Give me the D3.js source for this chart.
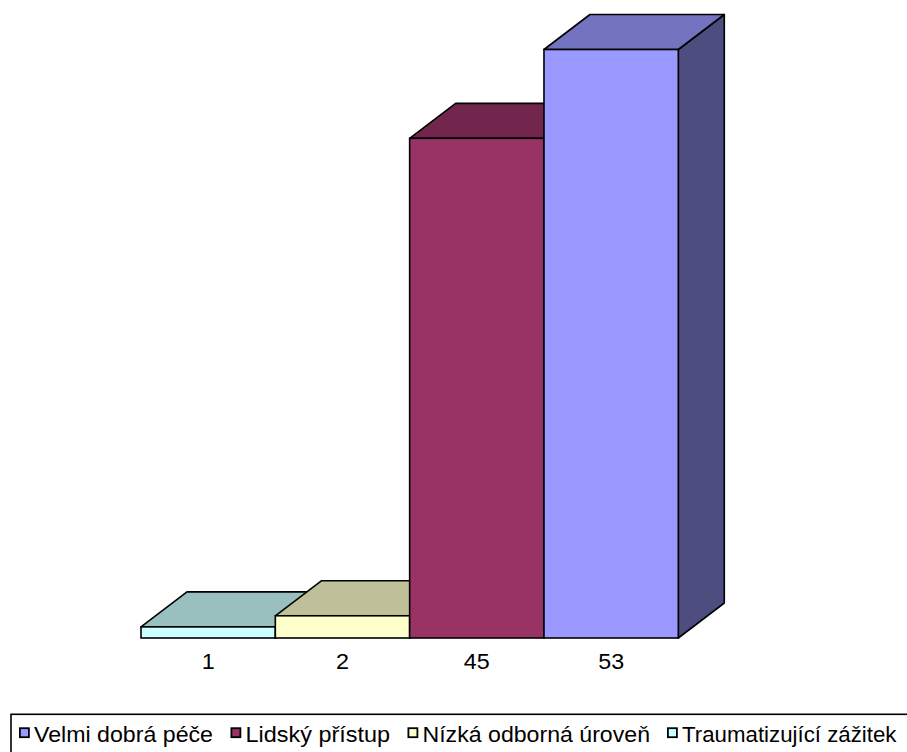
<!DOCTYPE html>
<html>
<head>
<meta charset="utf-8">
<script src="https://cdn.jsdelivr.net/npm/d3@7"></script>
<style>
  html, body { margin: 0; padding: 0; background: #fff; }
  svg { display: block; font-family: "Liberation Sans", Arial, sans-serif; }
</style>
</head>
<body>
<svg id="chart" width="907" height="752"></svg>
<script>
// Series, in drawing order (front row, left to right)
const seriesNames = ["Traumatizující zážitek", "Nízká odborná úroveň", "Lidský přístup", "Velmi dobrá péče"];
const seriesValues = [1, 2, 45, 53];
const seriesColors = ["#CCFFFF", "#FFFFCC", "#993366", "#9999FF"];
// Legend lists the series in reverse order
const legendOrder = ["Velmi dobrá péče", "Lidský přístup", "Nízká odborná úroveň", "Traumatizující zážitek"];
const yMax = 53;

const svg = d3.select("#chart");

const plot = { left: 141, right: 678.3, top: 49.5, bottom: 638 };
const depth = { dx: 46, dy: 35 };

const x = d3.scaleBand()
  .domain(seriesNames)
  .range([plot.left, plot.right])
  .paddingInner(0).paddingOuter(0);

const y = d3.scaleLinear()
  .domain([0, yMax])
  .range([plot.bottom, plot.top]);

const shade = (c, k) => {
  const r = d3.rgb(c);
  return d3.rgb(r.r * k, r.g * k, r.b * k).formatHex();
};

const bars = svg.append("g").attr("class", "bars");
const data = seriesNames.map((name, i) => ({ name, value: seriesValues[i], color: seriesColors[i] }));

data.forEach(d => {
  const x0 = x(d.name), x1 = x0 + x.bandwidth();
  const yt = y(d.value), yb = y(0);
  const g = bars.append("g");
  // right side face
  g.append("path")
    .attr("d", d3.line()([[x1, yt], [x1 + depth.dx, yt - depth.dy], [x1 + depth.dx, yb - depth.dy], [x1, yb]]) + "Z")
    .attr("fill", shade(d.color, 0.5))
    .attr("stroke", "#000").attr("stroke-width", 1.6).attr("stroke-linejoin", "round");
  // top face
  g.append("path")
    .attr("d", d3.line()([[x0, yt], [x0 + depth.dx, yt - depth.dy], [x1 + depth.dx, yt - depth.dy], [x1, yt]]) + "Z")
    .attr("fill", shade(d.color, 0.75))
    .attr("stroke", "#000").attr("stroke-width", 1.6).attr("stroke-linejoin", "round");
  // front face
  g.append("rect")
    .attr("x", x0).attr("y", yt)
    .attr("width", x1 - x0).attr("height", yb - yt)
    .attr("fill", d.color)
    .attr("stroke", "#000").attr("stroke-width", 1.6);
});

// Category labels under the bars show each bar's value
const valueByName = new Map(data.map(d => [d.name, d.value]));
const axis = d3.axisBottom(x)
  .tickSize(0)
  .tickPadding(15)
  .tickFormat(n => String(valueByName.get(n)));
const axisG = svg.append("g")
  .attr("transform", `translate(0,${plot.bottom})`)
  .call(axis);
axisG.select(".domain").remove();
axisG.selectAll("text")
  .attr("font-size", 22)
  .attr("font-family", "'Liberation Sans', Arial, sans-serif")
  .attr("fill", "#000")
  .attr("transform", "scale(1.06,1)")
  .attr("x", 0);

// Legend
const legend = svg.append("g").attr("class", "legend");
legend.append("rect")
  .attr("x", 11).attr("y", 714.3)
  .attr("width", 1000).attr("height", 100)
  .attr("fill", "#fff").attr("stroke", "#000").attr("stroke-width", 1.6);

const legendX = [19, 230.5, 407.5, 667];
const legendEnd = [213, 390, 650, 896.5];
legendOrder.forEach((name, i) => {
  const color = seriesColors[seriesNames.indexOf(name)];
  const item = legend.append("g").attr("transform", `translate(${legendX[i]},0)`);
  item.append("rect")
    .attr("x", 0.9).attr("y", 728.2)
    .attr("width", 9).attr("height", 9)
    .attr("fill", color)
    .attr("stroke", "#000").attr("stroke-width", 1.8);
  item.append("text")
    .attr("x", 15).attr("y", 742)
    .attr("font-size", 22)
    .attr("textLength", legendEnd[i] - legendX[i] - 15)
    .attr("lengthAdjust", "spacingAndGlyphs")
    .attr("fill", "#000")
    .text(name);
});
</script>
</body>
</html>
